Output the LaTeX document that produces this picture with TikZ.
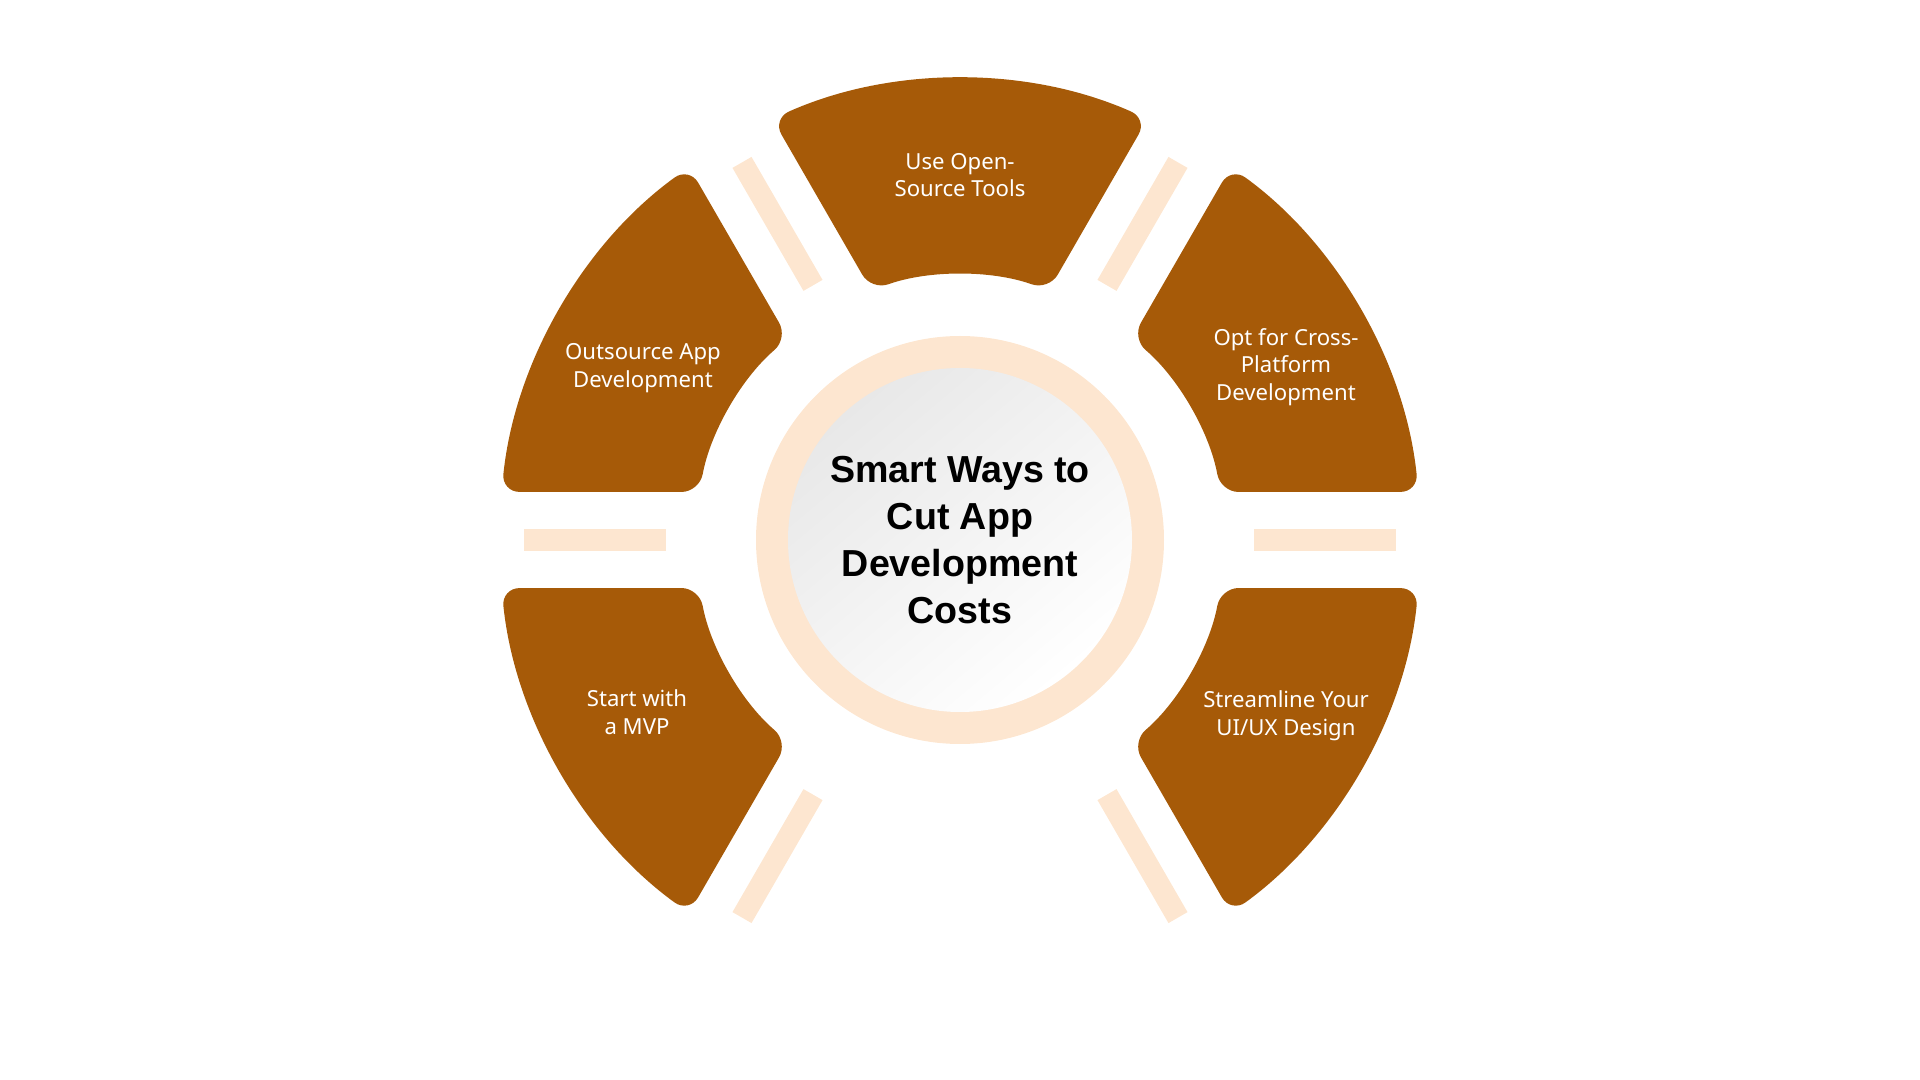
\documentclass[tikz,border=0pt]{standalone}
\usepackage{fontspec}
\setmainfont{Noto Sans}
\newfontfamily\hubfont{Liberation Sans}
\definecolor{rust}{HTML}{A65A08}
\definecolor{peach}{HTML}{FDE6D0}

\begin{document}
\begin{tikzpicture}[
	segment/.style = {fill = rust, rounded corners = 0.18cm},
	gapbar/.style = {draw = peach, line width = 0.22cm},
	seglabel/.style = {text = white, align = center, font = \fontsize{6.3}{7.9}\selectfont},
	hub/.style = {align = center, font = \hubfont\bfseries\fontsize{10.7}{13.3}\selectfont}
]
	\useasboundingbox (-9.6,-5.4) rectangle (9.6,5.4);
	\foreach \b in {0,60,...,300}
	\draw[gapbar] (\b:2.94) -- (\b:4.36);
	\foreach \t/\pos/\txt in {90/{0,3.65}/{Use Open-\\Source Tools}, 30/{3.26,1.73}/{Opt for Cross-\\Platform\\Development}, 150/{-3.17,1.72}/{Outsource App\\Development}, 210/{-3.23,-1.72}/{Start with\\a MVP}, 330/{3.26,-1.76}/{Streamline Your\\UI/UX Design}}
	{
	\fill[segment] (\t-30+5.99:4.61) arc[start angle = \t-30+5.99, end angle = \t+30-5.99, radius = 4.61] -- (\t+30-10.44:2.65) arc[start angle = \t+30-10.44, end angle = \t-30+10.44, radius = 2.65] -- cycle;
	\node[seglabel] (lbl\t) at (\pos) {\txt};
	}
	\fill[peach] (0,0) circle (2.04);
	\shade[top color = black!9, bottom color = white, shading angle = 40] (0,0) circle (1.72);
	\node[hub] (title) at (0,0) {Smart Ways to\\Cut App\\Development\\Costs};
\end{tikzpicture}
\end{document}
